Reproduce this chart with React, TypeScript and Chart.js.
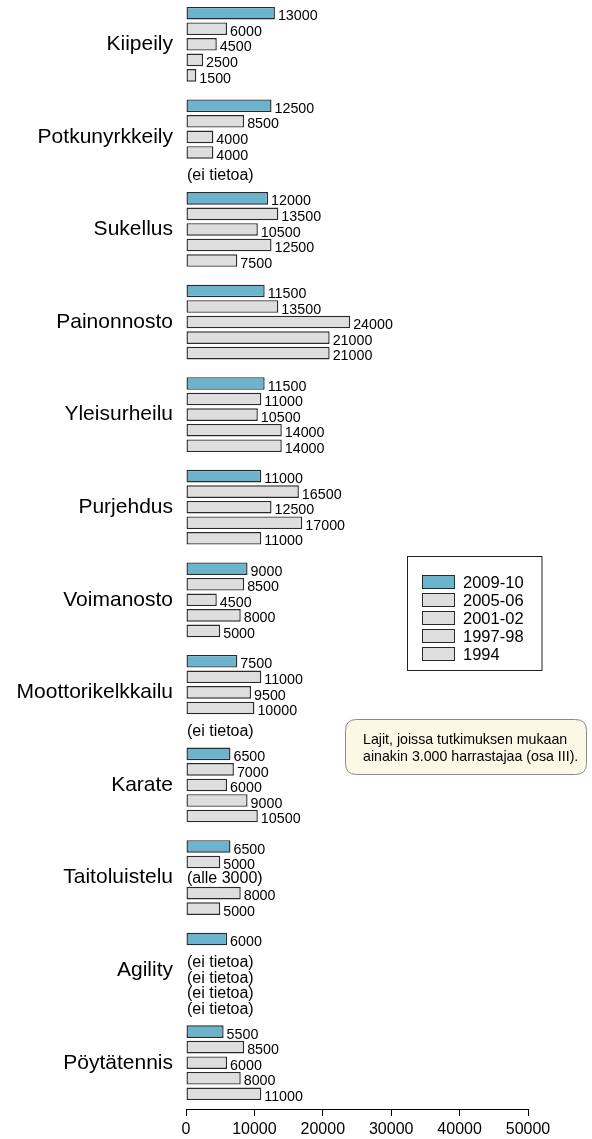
import React, { useEffect, useRef } from "react";
import { Chart, registerables } from "chart.js";

Chart.register(...registerables);

const categories = [
  "Kiipeily",
  "Potkunyrkkeily",
  "Sukellus",
  "Painonnosto",
  "Yleisurheilu",
  "Purjehdus",
  "Voimanosto",
  "Moottorikelkkailu",
  "Karate",
  "Taitoluistelu",
  "Agility",
  "Pöytätennis",
];

const seriesLabels = ["2009-10", "2005-06", "2001-02", "1997-98", "1994"];

const s2009 = [13000, 12500, 12000, 11500, 11500, 11000, 9000, 7500, 6500, 6500, 6000, 5500];
const s2005 = [6000, 8500, 13500, 13500, 11000, 16500, 8500, 11000, 7000, 5000, null, 8500];
const s2001 = [4500, 4000, 10500, 24000, 10500, 12500, 4500, 9500, 6000, null, null, 6000];
const s1997 = [2500, 4000, 12500, 21000, 14000, 17000, 8000, 10000, 9000, 8000, null, 8000];
const s1994 = [1500, null, 7500, 21000, 14000, 11000, 5000, null, 10500, 5000, null, 11000];

const seriesValues = [s2009, s2005, s2001, s1997, s1994];

const noteCategories = ["Potkunyrkkeily", "Moottorikelkkailu", "Taitoluistelu", "Agility", "Agility", "Agility", "Agility"];
const noteSeries = [4, 4, 2, 1, 2, 3, 4];
const noteTexts = ["(ei tietoa)", "(ei tietoa)", "(alle 3000)", "(ei tietoa)", "(ei tietoa)", "(ei tietoa)", "(ei tietoa)"];

const xTicks = [0, 10000, 20000, 30000, 40000, 50000];

const annotationLines = ["Lajit, joissa tutkimuksen mukaan", "ainakin 3.000 harrastajaa (osa III)."];

const FONT = "'Liberation Sans', Arial, Helvetica, sans-serif";
const BLUE = "#6cb4ce";
const GREY = "#dedede";
const EDGE = "#2a2a2a";

const overlayPlugin = {
  id: "overlay",
  afterDatasetsDraw(chart: any) {
    const ctx = chart.ctx;
    const area = chart.chartArea;
    ctx.save();
    ctx.font = `14.3px ${FONT}`;
    ctx.fillStyle = "#000";
    ctx.textAlign = "left";
    ctx.textBaseline = "middle";
    chart.data.datasets.forEach((ds: any, di: number) => {
      const meta = chart.getDatasetMeta(di);
      meta.data.forEach((bar: any, i: number) => {
        const v = ds.data[i];
        if (v === null || v === undefined) return;
        ctx.fillText(String(v), bar.x + 3, bar.y + 3.2);
      });
    });
    ctx.font = `16px ${FONT}`;
    noteTexts.forEach((t, k) => {
      const ci = categories.indexOf(noteCategories[k]);
      const meta = chart.getDatasetMeta(noteSeries[k]);
      const bar = meta.data[ci];
      const off = t.indexOf("alle") >= 0 ? 1.5 : 8;
      ctx.fillText(t, area.left + 1, bar.y + off);
    });
    ctx.restore();
  },
  afterDraw(chart: any) {
    const ctx = chart.ctx;
    const off = chart.canvas.offsetTop || 0;
    ctx.save();
    const lx = 407, ly = 556 - off, lw = 134.5, lh = 114;
    ctx.fillStyle = "#fff";
    ctx.fillRect(lx, ly, lw, lh);
    ctx.strokeStyle = "#222";
    ctx.lineWidth = 1;
    ctx.strokeRect(lx + 0.5, ly + 0.5, lw, lh);
    ctx.font = `16.5px ${FONT}`;
    ctx.textAlign = "left";
    ctx.textBaseline = "middle";
    seriesLabels.forEach((lab, i) => {
      const cy = ly + 26 + i * 18;
      ctx.fillStyle = i === 0 ? BLUE : GREY;
      ctx.fillRect(422, cy - 7, 33, 14);
      ctx.strokeStyle = EDGE;
      ctx.strokeRect(422.5, cy - 6.5, 32, 13);
      ctx.fillStyle = "#000";
      ctx.fillText(lab, 463, cy + 1);
    });
    const ax = 345.5, ay = 719.5 - off, aw = 241, ah = 55, r = 11;
    ctx.beginPath();
    ctx.moveTo(ax + r, ay);
    ctx.lineTo(ax + aw - r, ay);
    ctx.quadraticCurveTo(ax + aw, ay, ax + aw, ay + r);
    ctx.lineTo(ax + aw, ay + ah - r);
    ctx.quadraticCurveTo(ax + aw, ay + ah, ax + aw - r, ay + ah);
    ctx.lineTo(ax + r, ay + ah);
    ctx.quadraticCurveTo(ax, ay + ah, ax, ay + ah - r);
    ctx.lineTo(ax, ay + r);
    ctx.quadraticCurveTo(ax, ay, ax + r, ay);
    ctx.closePath();
    ctx.fillStyle = "#fbf8e6";
    ctx.fill();
    ctx.strokeStyle = "#8a8a8a";
    ctx.lineWidth = 1;
    ctx.stroke();
    ctx.fillStyle = "#000";
    ctx.font = `14.2px ${FONT}`;
    ctx.fillText(annotationLines[0], 363, ay + 21);
    ctx.fillText(annotationLines[1], 363, ay + 38);
    ctx.restore();
  },
};

export default function App() {
  const ref = useRef<HTMLCanvasElement | null>(null);
  useEffect(() => {
    if (!ref.current) return;
    const chart = new Chart(ref.current, {
      type: "bar",
      data: {
        labels: categories,
        datasets: seriesValues.map((vals, i) => ({
          label: seriesLabels[i],
          data: vals,
          backgroundColor: i === 0 ? BLUE : GREY,
          borderColor: EDGE,
          borderWidth: 1.4,
          borderSkipped: false,
          categoryPercentage: 0.84,
          barPercentage: 0.81,
        })),
      },
      options: {
        indexAxis: "y",
        responsive: false,
        animation: false,
        devicePixelRatio: 1,
        layout: { padding: { left: 0, right: 64, top: 0, bottom: 0 } },
        plugins: {
          legend: { display: false },
          tooltip: { enabled: false },
          title: { display: false },
        },
        scales: {
          y: {
            type: "category",
            position: "left",
            grid: { display: false, drawTicks: false },
            border: { display: false },
            ticks: {
              padding: 13,
              color: "#000",
              font: { family: FONT, size: 21 },
            },
            afterFit: (scale: any) => {
              scale.width = 186;
              scale.paddingTop = 0;
              scale.paddingBottom = 0;
            },
          },
          x: {
            type: "linear",
            position: "bottom",
            min: 0,
            max: 50000,
            afterBuildTicks: (scale: any) => {
              scale.ticks = xTicks.map((v) => ({ value: v }));
            },
            grid: {
              display: true,
              drawOnChartArea: false,
              drawTicks: true,
              tickLength: 7,
              color: "#000",
              lineWidth: 1,
            },
            border: { display: true, color: "#000", width: 1 },
            ticks: {
              padding: 4,
              color: "#000",
              maxRotation: 0,
              autoSkip: false,
              font: { family: FONT, size: 16 },
              callback: (v: any) => String(v),
            },
            afterFit: (scale: any) => {
              scale.height = 30;
            },
          },
        },
      },
      plugins: [overlayPlugin],
    } as any);
    return () => chart.destroy();
  }, []);
  return (
    <div style={{ position: "fixed", left: 0, top: 0, width: 592, height: 1139, overflow: "hidden", background: "#fff" }}>
      <canvas
        ref={ref}
        width={592}
        height={1141}
        style={{ position: "absolute", left: 0, top: -2, width: 592, height: 1141 }}
      />
    </div>
  );
}
